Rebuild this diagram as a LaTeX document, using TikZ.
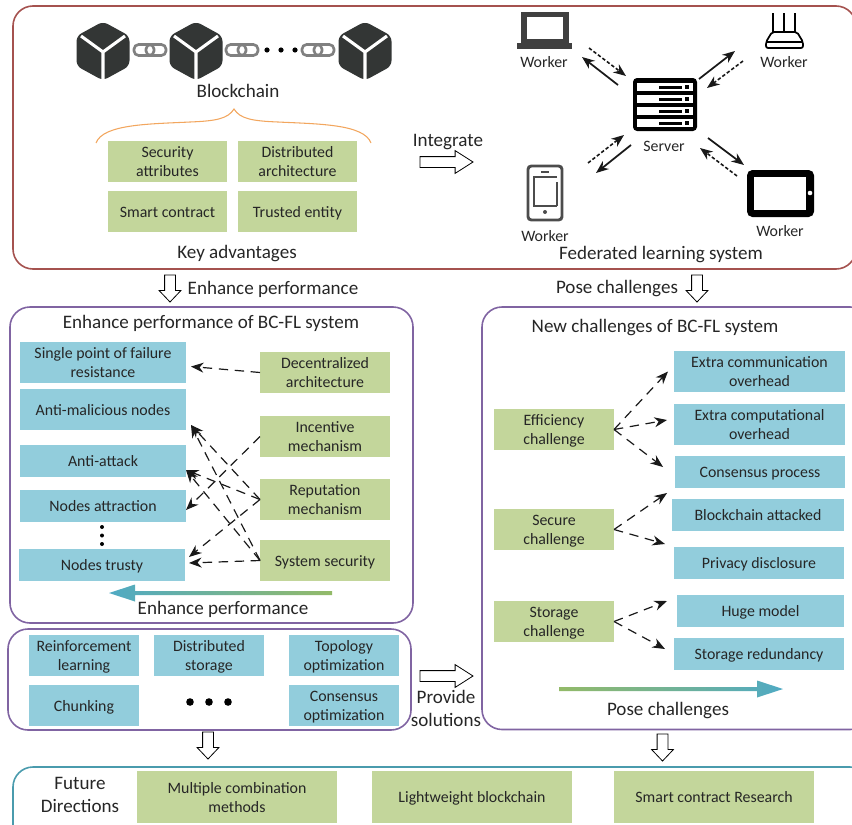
\documentclass[tikz,border=0pt]{standalone}
\usepackage{fontspec}
\setmainfont{Carlito}
\usetikzlibrary{positioning, arrows.meta, shapes.arrows}

\definecolor{boxgreen}{HTML}{C3D69B}
\definecolor{boxblue}{HTML}{92CDDC}
\definecolor{framered}{HTML}{A5524F}
\definecolor{framepurple}{HTML}{8064A2}
\definecolor{frameteal}{HTML}{4A9BAD}
\definecolor{braceorange}{HTML}{F2A65E}
\definecolor{ink}{HTML}{262626}
\definecolor{cubegray}{HTML}{333635}
\definecolor{flowgreen}{HTML}{93BA68}
\definecolor{flowteal}{HTML}{4FAAC4}

\tikzset{
    cube/.pic={
        \fill [cubegray, rounded corners=4pt] (0,-29.5) -- (26.5,-15) -- (26.5,15) -- (0,29.5) -- (-26.5,15) -- (-26.5,-15) -- cycle;
        \draw [white, line width=2.3pt] (-22,-15) -- (0,1) -- (22,-15) (0,1) -- (0,28);
    },
    chainlink/.pic={
        \draw [gray, line width=2pt, rounded corners=3.5pt] (-16,-5.5) rectangle (4,5.5) (-4,-5.5) rectangle (16,5.5);
    },
    laptopicon/.pic={
        \fill [black!75] (-24,-18) rectangle (24,13);
        \fill [white] (-18,-13) rectangle (18,9);
        \fill [black!75] (-28,13) rectangle (27,19);
    },
    routericon/.pic={
        \draw [black, line width=1.3pt, line join=round, rounded corners=1.5pt] (-18,18) -- (19,18) -- (19,12) -- (13,2) -- (-12,2) -- (-18,12) -- cycle (-18,12) -- (19,12);
        \draw [black, line width=1.3pt] (-11,2) -- (-11,-17) (0,2) -- (0,-17) (11,2) -- (11,-17);
    },
    phoneicon/.pic={
        \draw [black!70, line width=2.2pt, rounded corners=2.5pt] (-17,-27) rectangle (17,27);
        \draw [black!70, line width=1.3pt] (-4,-21) -- (4,-21);
        \draw [black!70, line width=1.3pt] (12,-16) -- (-11,-16) -- (-11,13) -- (12,13) (12,13) -- (12,-11);
        \fill [black!70] (0,19) circle (2);
    },
    tableticon/.pic={
        \fill [black, rounded corners=4pt] (-33,-23) rectangle (34,24);
        \fill [white] (-26,-16) rectangle (26,17);
        \fill [white] (30,0) circle (2.3);
    },
    servericon/.pic={
        \fill [black, rounded corners=3pt] (-32,-26.5) rectangle (32,26.5);
        \foreach \rowy in {-21.5,-9.5,2.5,14.5} {
            \fill [white] (-28,\rowy) rectangle (28,\rowy+8);
            \fill [black] (-6,\rowy+2.5) rectangle (17,\rowy+5.5);
            \fill [black] (20,\rowy+2) rectangle (24,\rowy+6);
        }
    },
}

\begin{document}
\begin{tikzpicture}[
                x=0.75pt, y=-0.75pt,
                >={Stealth[length=9.5pt,width=7.5pt]},
                every node/.style={text=ink, inner sep=0pt, outer sep=0pt, align=center, font=\fontsize{11.9}{14.25}\selectfont},
                every edge/.style={draw, black!90},
                frame/.style={draw=#1, line width=1.2pt, rounded corners=15pt},
                size/.style 2 args={minimum width=#1*0.75pt, minimum height=#2*0.75pt},
                greenbox/.style={fill=boxgreen, text depth=0pt},
                bluebox/.style={fill=boxblue, text depth=0pt},
                oneline/.style={text height=8.5pt},
                heading/.style={font=\fontsize{14.3}{17.25}\selectfont, yshift=-1.1pt},
                flow/.style={->, line width=0.9pt, dash pattern=on 7pt off 5pt},
                sendflow/.style={->, line width=1.3pt},
                backflow/.style={->, line width=1.2pt, dash pattern=on 2.6pt off 1.6pt},
                hollowright/.style={draw=black, fill=white, line width=0.6pt, single arrow, anchor=tail, inner ysep=3.75pt, single arrow head extend=4.5pt, single arrow tip angle=65, minimum height=39.75pt, minimum width=16.5pt},
                hollowdown/.style={draw=black, fill=white, line width=0.6pt, single arrow, anchor=tail, inner ysep=3.75pt, single arrow head extend=4.1pt, single arrow tip angle=87, minimum height=20.25pt, minimum width=15.75pt, rotate=-90}]

    \path [use as bounding box, clip] (0,0) rectangle (852,824);

    %%% FRAMES
    \draw [frame=framered] (13,6) rectangle (856,269);
    \draw [frame=framepurple] (10,307) rectangle (413,623);
    \draw [frame=framepurple] (482,307) rectangle (870,729.5);
    \draw [frame=framepurple] (8,629) rectangle (411,730);
    \draw [frame=frameteal] (13,767) rectangle (870,860);

    %%% BLOCKCHAIN
    \pic at (103,51) {cube};
    \pic at (196,51) {cube};
    \pic at (365,51) {cube};
    \pic at (150,50) {chainlink};
    \pic at (242,50) {chainlink};
    \pic at (318,50) {chainlink};
    \fill [black] (267,50) circle (2.6) (281,50) circle (2.6) (295,50) circle (2.6);
    \node [heading] (blockchain) at (238,89.5) {Blockchain};
    \draw [braceorange, line width=0.8pt] (96,143) .. controls (103,124) and (150,124) .. (190,122) .. controls (215,121) and (228,119) .. (234,109) .. controls (240,119) and (253,121) .. (278,122) .. controls (318,124) and (364,124) .. (371,143);

    %%% ADVANTAGES
    \node [greenbox, size={119}{41}] (security) at (167.5,161.5) {Security\\attributes};
    \node [greenbox, size={119}{41}, right=8.25pt of security] (distributed) {Distributed\\architecture};
    \node [greenbox, oneline, size={119}{41}, below=6.75pt of security] (smartcontract) {Smart contract};
    \node [greenbox, oneline, size={119}{41}, below=6.75pt of distributed] (trusted) {Trusted entity};
    \node [heading] (advantages) at (237,252) {Key advantages};

    \node [heading] (integrate) at (448,141) {Integrate};
    \node [hollowright] (integratearrow) at (420,162) {};

    %%% FEDERATED LEARNING
    \coordinate (server) at (665,104.5);
    \coordinate (laptop) at (545,30);
    \coordinate (router) at (784,30);
    \coordinate (phone) at (545,193);
    \coordinate (tablet) at (780,193);
    \pic at (server) {servericon};
    \pic at (laptop) {laptopicon};
    \pic at (router) {routericon};
    \pic at (phone) {phoneicon};
    \pic at (tablet) {tableticon};
    \node (serverlabel) at (664,146) {Server};
    \node (laptoplabel) at (544,62) {Worker};
    \node (routerlabel) at (784,62) {Worker};
    \node (phonelabel) at (545,236) {Worker};
    \node (tabletlabel) at (780,231) {Worker};
    \node [heading] (federated) at (661,253) {Federated learning system};

    \path ([shift={(44,18)}]laptop) edge [backflow] ([shift={(-39,-28.5)}]server);
    \path ([shift={(-47,-19.5)}]server) edge [sendflow] ([shift={(37,27)}]laptop);
    \path ([shift={(34,-25.5)}]server) edge [sendflow] ([shift={(-49,21)}]router);
    \path ([shift={(-41,31)}]router) edge [backflow] ([shift={(42,-16.5)}]server);
    \path ([shift={(43,-30)}]phone) edge [backflow] ([shift={(-41,30.5)}]server);
    \path ([shift={(-34,40.5)}]server) edge [sendflow] ([shift={(51,-20)}]phone);
    \path ([shift={(43,33.5)}]server) edge [sendflow] ([shift={(-36,-28)}]tablet);
    \path ([shift={(-43,-17)}]tablet) edge [backflow] ([shift={(35,43.5)}]server);

    %%% BETWEEN THE ROWS
    \node [hollowdown] (enhancearrow) at (170,275) {};
    \node [heading] (enhancetext) at (273,288) {Enhance performance};
    \node [heading] (posetext) at (617,287) {Pose challenges};
    \node [hollowdown] (posearrow) at (697,275) {};

    %%% ENHANCE PERFORMANCE
    \node [heading] (enhancetitle) at (211,322) {Enhance performance of BC-FL system};
    \node [bluebox, size={166}{41}] (single) at (103,362.5) {Single point of failure\\resistance};
    \node [bluebox, oneline, size={166}{41}, below=4.5pt of single] (malicious) {Anti-malicious nodes};
    \node [bluebox, oneline, size={166}{32}, below=11.25pt of malicious] (antiattack) {Anti-attack};
    \node [bluebox, oneline, size={166}{32}, below=9.75pt of antiattack] (attraction) {Nodes attraction};
    \node [bluebox, oneline, size={166}{32}] (nodestrusty) at (102,565) {Nodes trusty};
    \fill [black] (102,527) circle (2) (102,535.5) circle (2) (102,544) circle (2);

    \node [greenbox, size={130}{41}] (decentral) at (325,372.5) {Decentralized\\architecture};
    \node [greenbox, size={130}{41}, below=17.25pt of decentral] (incentive) {Incentive\\mechanism};
    \node [greenbox, size={130}{41}, below=16.5pt of incentive] (reputation) {Reputation\\mechanism};
    \node [greenbox, oneline, size={130}{41}, below=15pt of reputation] (syssecurity) {System security};

    \path (decentral.west) edge [flow] ([shift={(5,4)}]single.east);
    \path (incentive.west) edge [flow] ([shift={(0,4)}]attraction.east);
    \path (reputation.west) edge [flow] ([shift={(5,15.5)}]malicious.east);
    \path (reputation.west) edge [flow] ([shift={(0,9)}]antiattack.east);
    \path (reputation.west) edge [flow] ([shift={(4,-8)}]nodestrusty.east);
    \path (syssecurity.west) edge [flow] ([shift={(5,15.5)}]malicious.east);
    \path (syssecurity.west) edge [flow] ([shift={(0,9)}]antiattack.east);
    \path (syssecurity.west) edge [flow] ([shift={(4,-2)}]nodestrusty.east);

    \shade [left color=flowteal, right color=flowgreen] (109,593) -- (135,584.5) -- (135,591) -- (332,591) -- (332,595) -- (135,595) -- (135,601.5) -- cycle;
    \node [heading] (enhancebottom) at (223,608) {Enhance performance};

    %%% SOLUTIONS
    \node [bluebox, size={110}{41}] (reinforcement) at (84,655.5) {Reinforcement\\learning};
    \node [bluebox, size={110}{41}, right=11.25pt of reinforcement] (diststorage) {Distributed\\storage};
    \node [bluebox, size={110}{41}, right=18.75pt of diststorage] (topology) {Topology\\optimization};
    \node [bluebox, oneline, size={110}{41}, below=6.75pt of reinforcement] (chunking) {Chunking};
    \node [bluebox, size={110}{41}, below=6.75pt of topology] (consensusopt) {Consensus\\optimization};
    \fill [black] (190,702) circle (3.8) (209,702) circle (3.8) (228,702) circle (3.8);

    \node [hollowright] (providearrow) at (420,676) {};
    \node [heading] (provide) at (446,706.5) {Provide\\solutions};

    %%% NEW CHALLENGES
    \node [heading] (challengetitle) at (655,326) {New challenges of BC-FL system};
    \node [greenbox, size={120}{41}] (efficiency) at (554,429.5) {Efficiency\\challenge};
    \node [greenbox, size={120}{41}, below=44.25pt of efficiency] (secure) {Secure\\challenge};
    \node [greenbox, size={120}{41}, below=38.25pt of secure] (storage) {Storage\\challenge};

    \node [bluebox, size={171}{41}] (extracomm) at (759.5,371.5) {Extra communication\\overhead};
    \node [bluebox, size={171}{41}] (extracomp) at (759.5,424.5) {Extra computational\\overhead};
    \node [bluebox, oneline, size={170}{32}] (consensus) at (760,472) {Consensus process};
    \node [bluebox, oneline, size={172}{32}] (attacked) at (758,515) {Blockchain attacked};
    \node [bluebox, oneline, size={170}{32}] (privacy) at (759,563) {Privacy disclosure};
    \node [bluebox, oneline, size={167}{32}] (hugemodel) at (760.5,611) {Huge model};
    \node [bluebox, oneline, size={170}{32}] (redundancy) at (759,654) {Storage redundancy};

    \path (efficiency.east) edge [flow] ([shift={(-6,0)}]extracomm.west);
    \path (efficiency.east) edge [flow] ([shift={(-7,-4.5)}]extracomp.west);
    \path (efficiency.east) edge [flow] ([shift={(-12,-5)}]consensus.west);
    \path (secure.east) edge [flow] ([shift={(-5,-22)}]attacked.west);
    \path (secure.east) edge [flow] ([shift={(-9,-19)}]privacy.west);
    \path (storage.east) edge [flow] ([shift={(-10,-10)}]hugemodel.west);
    \path (storage.east) edge [flow] ([shift={(-9,-5)}]redundancy.west);

    \shade [left color=flowgreen, right color=flowteal] (559,687) -- (757,687) -- (757,680.5) -- (783,689) -- (757,697.5) -- (757,691) -- (559,691) -- cycle;
    \node [heading] (posebottom) at (668,709) {Pose challenges};

    %%% FUTURE DIRECTIONS
    \node [hollowdown] (solutionsarrow) at (208,732) {};
    \node [hollowdown] (challengesarrow) at (662.5,734) {};
    \node [heading] (future) at (80,793) {Future\\Directions};
    \node [greenbox, size={200}{52}] (combination) at (237,797) {Multiple combination\\methods};
    \node [greenbox, oneline, size={200}{52}] (lightweight) at (472,797) {Lightweight blockchain};
    \node [greenbox, oneline, size={200}{52}] (contractresearch) at (714,797) {Smart contract Research};

\end{tikzpicture}
\end{document}
